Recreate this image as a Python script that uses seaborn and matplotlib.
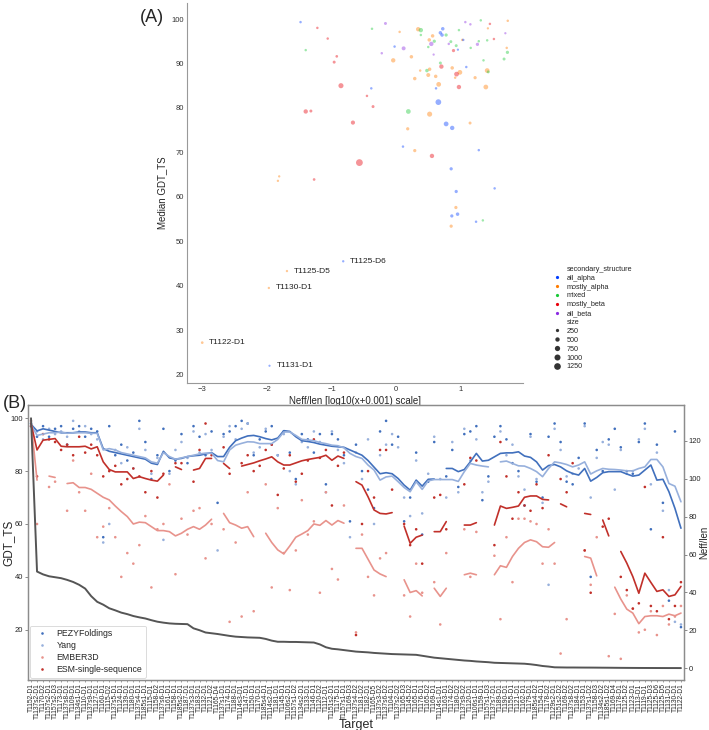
import numpy as np
import pandas as pd
import matplotlib
matplotlib.use("Agg")
import matplotlib.pyplot as plt
import seaborn as sns

sns.set_style("white")
plt.rcParams['font.family'] = ['Liberation Sans', 'DejaVu Sans']

nan = np.nan

# ---------------- Panel A data ----------------
a_x = [-1.48, -1.22, -1.06, -1.40, -0.92, -0.96, -0.855, -1.40, -1.32, -0.67, -0.57, -1.81, -1.83, -1.27,
       -0.82, -1.69, -1.97, -3.0, -1.96,
       -0.375, -0.167, 0.052, -0.224, -0.026, 0.114, -0.047, 0.234, 0.339, 0.38, 0.38, 0.562, 0.51, 0.588,
       0.542, 0.495, 0.682, 0.719, 0.708, 0.771, 0.969, 1.068, 1.146, 1.307, 1.448, 1.417, 1.724, 1.687,
       0.844, 0.812, 0.927, 0.885, 0.953, 1.021, 1.036, 1.151, 1.255, 1.276, 1.406, 1.51, 1.708, 1.719,
       1.667, 1.349, 0.578, 0.682, 0.698, 0.865, 0.474, 0.516, 0.37, 0.984, 0.932, 0.911, 0.495, 0.61,
       0.286, 1.083, 1.219, 1.406, 1.422, 1.385, 0.656, 0.615, 0.969, -0.386, -0.453, -0.359, 0.651,
       0.187, 0.516, 0.771, 0.865, 1.141, 0.177, 0.104, 0.286, 0.552, 1.276, 0.849, 0.927, 1.521, 0.922,
       0.859, 0.948, 1.234, 1.339, 0.849]
a_y = [99.3, 98.0, 95.6, 93.0, 91.6, 90.3, 85.0, 79.2, 79.3, 76.7, 67.7, 64.6, 63.6, 63.9,
       45.5, 43.3, 39.5, 27.2, 22.0,
       97.8, 99.0, 97.1, 92.3, 93.8, 93.4, 90.7, 91.5, 97.7, 97.5, 96.4, 96.2, 95.3, 95.0,
       94.4, 93.7, 96.9, 97.8, 96.4, 96.4, 97.5, 99.3, 98.8, 99.7, 98.9, 97.9, 99.6, 96.8,
       94.9, 94.4, 94.0, 92.9, 93.1, 95.3, 95.3, 93.5, 94.3, 95.0, 95.2, 95.5, 93.5, 92.5,
       91.0, 90.7, 92.0, 90.1, 89.3, 89.0, 88.4, 88.7, 88.4, 88.0, 87.6, 86.8, 87.4, 87.1,
       86.6, 89.2, 86.8, 88.4, 88.1, 84.7, 85.3, 84.4, 84.7, 84.4, 82.7, 80.3, 81.3,
       79.2, 78.6, 76.4, 75.5, 76.6, 75.3, 71.3, 70.4, 69.2, 70.5, 66.3, 61.2, 61.9, 57.6,
       55.7, 56.1, 54.4, 54.7, 53.4]
A, MA, MX, MB, B = 'all_alpha', 'mostly_alpha', 'mixed', 'mostly_beta', 'all_beta'
a_ss = [A, MB, MB, MX, MB, MB, MB, MB, MB, MB, MB, MA, MA, MB,
        A, MA, MA, MA, A,
        MX, B, MA, B, A, B, MA, MA, MA, MX, MX, MA, MA, MX,
        B, MX, A, A, A, MX, MX, B, B, MX, MB, MA, MA, B,
        MX, B, MX, MB, A, MA, A, MX, B, MX, MX, MB, MA, MX,
        MX, MX, B, MX, MB, MA, MX, MA, MA, MA, MB, MA, MA, MA,
        MA, A, MA, MA, MX, MA, MA, A, MB, A, MB, MB, A,
        MX, MA, A, A, MA, MA, A, MA, MB, A, A, A, A, MA,
        A, A, A, MX, MA]
a_size = [120, 120, 120, 120, 150, 200, 700, 500, 200, 450, 1300, 100, 100, 150,
          100, 100, 100, 150, 80,
          120, 200, 120, 120, 120, 400, 500, 300, 500, 500, 120, 300, 300, 250,
          500, 120, 300, 300, 300, 250, 120, 120, 120, 120, 120, 90, 120, 90,
          200, 120, 200, 250, 90, 120, 120, 120, 250, 120, 120, 120, 120, 250,
          200, 120, 90, 200, 500, 300, 300, 300, 120, 600, 600, 120, 400, 300,
          300, 120, 250, 600, 200, 600, 600, 120, 500, 120, 120, 200, 900,
          600, 700, 600, 500, 200, 250, 120, 250, 500, 120, 250, 250, 120, 250,
          250, 300, 120, 120, 250]
a_annot = {14: 'T1125-D6', 15: 'T1125-D5', 16: 'T1130-D1', 17: 'T1122-D1', 18: 'T1131-D1'}
ss_order = [A, MA, MX, MB, B]

# ---------------- Panel B data ----------------
targets = ['T1152-D1', 'T1137s2-D1', 'T1170-D2', 'T1157s2-D1', 'T1157s2-D3', 'T1173-D1', 'T1137s8-D1',
           'T1109-D1', 'T1134s1-D1', 'T1110-D1', 'T1137s9-D1', 'T1127-D1', 'T1160-D1', 'T1115-D2',
           'T1137s5-D1', 'T1124-D1', 'T1139-D1', 'T1180-D1', 'T1137s4-D1', 'T1185s1-D1', 'T1115-D1',
           'T1158-D2', 'T1137s6-D1', 'T1161-D1', 'T1158-D1', 'T1185s2-D1', 'T1187-D1', 'T1137s3-D1',
           'T1183-D1', 'T1132-D1', 'T1121-D2', 'T1165-D4', 'T1137s1-D1', 'T1174-D1', 'T1188-D1',
           'T1114s3-D1', 'T1147-D1', 'T1150-D1', 'T1170-D1', 'T1185s4-D1', 'T1114s2-D1', 'T1181-D1',
           'T1145-D1', 'T1106s2-D1', 'T1157s1-D2', 'T1134s2-D1', 'T1133-D1', 'T1146-D1', 'T1120-D2',
           'T1112-D1', 'T1151s2-D1', 'T1175-D1', 'T1157s1-D1', 'T1169-D3', 'T1137s4-D2', 'T1181-D2',
           'T1182-D1', 'T1165-D5', 'T1137s3-D2', 'T1137s6-D2', 'T1104-D1', 'T1137s2-D2', 'T1165-D3',
           'T1145-D2', 'T1165-D1', 'T1176-D1', 'T1165-D2', 'T1169-D1', 'T1114s1-D1', 'T1163-D1',
           'T1174-D2', 'T1180-D2', 'T1137s9-D2', 'T1120-D1', 'T1106s1-D1', 'T1159-D1', 'T1157s1-D3',
           'T1137s7-D1', 'T1189-D1', 'T1190-D1', 'T1155-D1', 'T1121-D1', 'T1162-D1', 'T1179-D1',
           'T1185s4-D2', 'T1154-D1', 'T1178-D2', 'T1129s2-D1', 'T1151s2-D2', 'T1169-D2', 'T1137s8-D2',
           'T1184-D1', 'T1153-D1', 'T1137s1-D2', 'T1158-D3', 'T1134s2-D2', 'T1185s1-D2', 'T1169-D4',
           'T1178-D1', 'T1125-D2', 'T1123-D1', 'T1113-D1', 'T1119-D1', 'T1125-D3', 'T1125-D6',
           'T1125-D5', 'T1131-D1', 'T1130-D1', 'T1122-D1']

methods = ['PEZYFoldings', 'Yang', 'EMBER3D', 'ESM-single-sequence']
method_colors = ['#4170bd', '#97b0dc', '#e8938c', '#c1302a']

pezy_dots = [98, 93, 97, 93, 96, 97, 90, 96, 97, 93,
             96, 95, 55, 97, 86, 90, 84, 87, 99, 91,
             77, 86, 96, 80, 84, 94, 83, 97, 93, 86,
             95, 68, 94, 95, 97, 99, 98, 86, 92, 95,
             97, 86, 95, 87, 77, 94, 92, 87, 94, 75,
             94, 92, 86, 61, 90, 80, 73, 66, 95, 99,
             90, 93, 61, 70, 87, 56, 76, 91, nan, 78,
             88, 74, 94, 95, 97, 69, 78, 93, 97, 92,
             83, 80, 67, 94, 76, 70, 93, 98, 91, 76,
             75, 85, 98, 40, 88, 80, 92, 96, 89, 80,
             79, 91, 98, 58, 90, 68, 31, 95, 21]
yang_dots = [97, 95, 92, 96, 94, 95, 93, 99, 95, 97,
             94, 92, 53, 60, 88, 83, 89, 81, 96, 88,
             79, 85, 54, 79, 88, 91, 85, 95, 87, 94,
             88, 50, 93, 97, 92, 96, 98, 87, 89, 96,
             90, 86, 94, 80, 75, 91, 89, 95, 91, 72,
             95, 88, 83, 55, 87, 77, 92, 60, 86, 90,
             94, 89, 70, 63, 84, 64, 79, 93, 77, 70,
             91, 72, 96, 84, 92, 72, 76, nan, 95, 86,
             90, 78, 73, 93, 77, 68, 37, 96, 88, 78,
             79, 81, 97, 70, 85, 91, 90, 73, 88, 79,
             80, 92, 96, 75, 87, 65, 35, 23, 22]
ember_dots = [99, 60, nan, 74, 76, nan, 65, 84, 72, 65,
              79, 55, 59, 66, 55, 40, 49, 45, 52, 63,
              36, 58, 60, 75, 41, 62, 56, 65, 66, 47,
              60, nan, 58, 23, 53, 25, 72, 27, nan, 75,
              36, 66, 49, 35, 50, 69, 56, 61, 34, 72,
              43, 39, 67, nan, 19, 56, 40, 33, 47, 49,
              nan, nan, 33, 25, 45, 34, nan, 38, 22, 49,
              nan, nan, 58, 40, 57, nan, nan, 48, 24, 55,
              38, 62, 62, 61, 60, 45, 58, 45, 11, 24,
              nan, nan, 50, 37, 55, nan, 10, 26, 9, 33,
              28, 19, 20, 27, 18, 29, 22, 25, 29]
esm_dots = [97, 78, 94, 92, 91, 88, 90, 86, 93, 87,
            90, 86, 78, 80, 82, 75, 77, 81, 78, 72,
            80, 70, 79, nan, 83, 83, nan, 76, 88, 98,
            86, nan, 89, 79, nan, 83, 86, 80, 82, 88,
            90, 71, 81, 86, 76, 79, 84, 92, 85, 88,
            67, 82, 87, nan, 18, 60, 80, 70, 88, 88,
            73, nan, 60, 52, 58, 45, nan, 70, 71, 58,
            nan, nan, 75, 85, 84, nan, nan, 52, 91, 78,
            62, 72, 67, 65, 75, 66, 86, nan, 77, 72,
            83, nan, 50, 34, nan, 59, 62, nan, 40, 35,
            28, 30, 74, 29, 27, 55, 24, 29, 38]

pezy_line = [97.7, 95.2, 96, 95.5, 95, 94.5, 94.5, 94.5, 94.8, 94.8,
             94.5, 94.5, 88.5, 87.5, 87, 86.5, 86, 85.5, 85, 84.5,
             83, 82.5, 87.5, 85, 84.5, 84.8, 85.5, 85.8, 86, 86.5,
             87, 85.5, 85.5, 89, 91.5, 92.5, 93.3, 93.5, 93, 92.3,
             91.8, 92.5, 95.3, 95, 93, 91.5, 91.2, 90.8, 90.2, 89.8,
             89.4, 89.2, 89, 88, 87, 86, 84, 81.5, 79, 79.4,
             79, 77.2, 74.7, 72.8, 76.6, 74.3, 76.9, 77, nan, 81,
             81, 79.8, 80.6, 83.5, 86.7, 83.8, 84.1, 85.4, 86.7, 86.9,
             86.9, 87.3, 85.7, 85.2, 83.5, 80.4, 82.1, 82.5, 81.6, 80.1,
             79.1, 78.5, 81, 76.2, 77.6, 79.4, 79.8, 79.8, 79.8, 78.9,
             78.1, 78.5, 80.4, 82.3, 76.6, 76.9, 72.2, 65.9, 58.4]
yang_line = [97.5, 93.5, 94, 94.5, 94.5, 94.8, 94.3, 94.5, 94.5, 94.5,
             94.3, 94.3, 88, 88.5, 88, 87, 86.5, 86, 85.5, 85,
             83.5, 83, 87, 85.5, 84.5, 85, 85.5, 86, 86.5, 86.8,
             86.8, 84, 83.5, 88, 89.8, 90.5, 91.1, 91, 90.4, 90.4,
             90.4, 92, 94.8, 94.8, 93.5, 92, 91.8, 91.5, 90.8, 90.4,
             89.8, 89.6, 88.8, 86.7, 85.5, 84.8, 82.3, 80.4, 76.6, 77.8,
             78.1, 76, 73.8, 72.2, 76, 73.1, 76.3, 76.8, 76.8, 76.8,
             76.8, 76.1, 79.8, 82.9, 82.3, 81.9, 81.6, nan, 83.5, 83.8,
             82.9, 82, 81.9, 81, 79.8, 77.9, 81, 83.5, 83.1, 82.5,
             81.6, 82.3, 83.5, 78.9, 80.1, 81, 80.7, 80.6, 80.4, 80.1,
             80.1, 81, 81.6, 84.4, 84.4, 81.6, 75.3, 74.3, 68.4]
ember_line = [98.6, 76.6, nan, 78.1, 77.6, nan, 75.3, 75.6, 73.8, 73.8,
              73.1, 71.6, 70.1, 69.1, 66.8, 64.7, 62.8, 60, 60.7, 60.5,
              59, 57.5, 57.5, 57.1, 55.5, 56.5, 58, 59, 58, 59.6,
              61.8, nan, 64, 60.5, 59.6, 58.4, 59, 55.2, nan, 56.5,
              53, 50.2, 48.7, 51.7, 55, 56.2, 57.5, 60, 59.5, 61.3,
              59.6, 61.3, 60.3, nan, 50.8, 50.8, 46.7, 42.6, 41.1, 40.1,
              nan, nan, 38.9, 34.1, 34.8, 32.8, nan, 35.7, 32.6, 35.7,
              nan, nan, 40.8, 41.4, 40.8, nan, nan, 40.8, 44.2, 43.6,
              47.7, 50.8, 53, 54, 53.3, 51.4, 51.2, 53, nan, nan,
              nan, nan, 47.7, 47.1, 40.4, nan, nan, 36.1, 31.6, 27.8,
              26.3, 22.3, 25, 25.3, 25.3, 25, 25.9, 25.3, 26.3]
esm_line = [98, 88, 91.7, 92, 92.3, 89.4, 89.2, 89.2, 89.2, 89.4,
            88.4, 89.2, 83.5, 80.6, 79.7, 79.7, 79.7, 77.2, 77.9, 77.2,
            76.6, 76.2, 78.5, nan, 81.6, 80.6, nan, 80.4, 81, 84.8,
            84.8, nan, 82.9, 81, nan, 81.9, 82.5, 83.1, 83.9, 84.6,
            85.4, 83.5, 82.3, 82.3, 83.1, 83.9, 84.4, 84.8, 85.2, 86,
            84.1, 85.7, 84.8, nan, 76, 74.7, 70.3, 65.3, 64, 63.8,
            64.3, nan, 59.2, 52.7, 55, 55.8, nan, 57.1, 57.1, 60.9,
            nan, nan, 59.6, 59.6, 60.5, nan, nan, 59.6, 66.8, 65.9,
            66.3, 66.8, 70.1, 70.6, 70.6, 69.3, 69.1, nan, 67.6, 66.5,
            nan, nan, 64, 63.6, nan, 61.5, 55.5, nan, 49.6, 45.2,
            40.1, 33.8, 41.4, 37.9, 34.5, 35.1, 32.6, 33.2, 36.4]
neff_len = [132, 51, 49.5, 48.5, 48, 47.5, 46.6, 45.5, 44, 42,
            38, 35, 33.5, 31.6, 30.5, 29.3, 28.5, 27.5, 26.8, 26.2,
            25.3, 24.5, 24, 23.6, 23.4, 23.3, 23.2, 21, 20, 18.8,
            18.4, 18, 17.5, 17, 16.6, 16.4, 16.2, 16.1, 16.0, 15.4,
            14.5, 13.9, 13.9, 13.8, 13.8, 13.7, 13.6, 13.5, 12.5, 11,
            10.2, 9.9, 9.5, 9.1, 8.7, 8.5, 8.3, 8.0, 7.8, 7.6,
            7.4, 7.3, 7.2, 7.1, 7.0, 6.5, 6.0, 5.5, 5.2, 4.9,
            4.6, 4.3, 4.0, 3.8, 3.5, 3.3, 3.1, 2.8, 2.7, 2.6,
            2.5, 2.4, 2.3, 2.0, 1.6, 1.1, 0.8, 0.4, 0.35, 0.3,
            0.3, 0.28, 0.26, 0.25, 0.23, 0.2, 0.18, 0.15, 0.12, 0.1,
            0.08, 0.06, 0.05, 0.04, 0.03, 0.02, 0.01, 0.01, 0.0]

# ---------------- Figure ----------------
fig = plt.figure(figsize=(7.09, 7.30), dpi=100)

# Panel A
axA = fig.add_axes([0.2637, 0.4753, 0.4740, 0.5205])
dfA = pd.DataFrame({'x': a_x, 'y': a_y, 'secondary_structure': a_ss, 'size': a_size})
sns.scatterplot(data=dfA, x='x', y='y', hue='secondary_structure', hue_order=ss_order,
                size='size', sizes=(2.5, 24), palette='bright', alpha=0.42, linewidth=0,
                legend='brief', ax=axA)
for i, name in a_annot.items():
    axA.annotate(name, (a_x[i], a_y[i]), xytext=(5, 0), textcoords='offset points',
                 va='center', ha='left', fontsize=6, color='#222222')
axA.set_xticks([-3, -2, -1, 0, 1])
axA.set_xlabel('Neff/len [log10(x+0.001) scale]', fontsize=7, labelpad=2)
axA.set_ylabel('Median GDT_TS', fontsize=7, labelpad=3)
axA.tick_params(labelsize=5.5, colors='#333333', length=0, pad=2)
sns.despine(ax=axA)
for s in ['left', 'bottom']:
    axA.spines[s].set_color('#999999')
sns.move_legend(axA, 'upper left', bbox_to_anchor=(1.07, 0.316), frameon=False,
                fontsize=5.2, labelspacing=0.25, handletextpad=0.4, borderaxespad=0)
legA = axA.get_legend()
for h, t in zip(legA.legend_handles, legA.get_texts()):
    if h is None:
        continue
    h.set_alpha(1)
    if t.get_text() in ss_order:
        if hasattr(h, 'set_markersize'):
            h.set_markersize(2.3)
        elif hasattr(h, 'set_sizes'):
            h.set_sizes([5])
fig.text(152 / 709, 1 - 17 / 730, '(A)', fontsize=13, ha='center', va='center')

# Panel B
axB = fig.add_axes([0.0395, 0.0685, 0.9252, 0.3767])
idx = np.arange(len(targets))
dots = pd.DataFrame({
    'idx': np.tile(idx, 4),
    'GDT_TS': np.concatenate([pezy_dots, yang_dots, ember_dots, esm_dots]),
    'method': np.repeat(methods, len(targets)),
}).dropna()
lines = []
for m, vals in zip(methods, [pezy_line, yang_line, ember_line, esm_line]):
    v = np.array(vals, dtype=float)
    seg = np.cumsum(np.isnan(v))
    lines.append(pd.DataFrame({'idx': idx, 'val': v, 'method': m, 'seg': seg}))
lines = pd.concat(lines).dropna()
pal = dict(zip(methods, method_colors))
sns.lineplot(data=lines, x='idx', y='val', hue='method', units='seg', estimator=None,
             palette=pal, linewidth=1.2, legend=False, ax=axB)
sns.scatterplot(data=dots, x='idx', y='GDT_TS', hue='method', hue_order=methods,
                palette=pal, s=3.5, linewidth=0, ax=axB)
axB.set_xlim(-0.5, len(targets) - 0.5)
axB.set_ylim(1, 105)
axB.set_yticks([20, 40, 60, 80, 100])
axB.set_xticks(idx)
axB.set_xticklabels(targets, rotation=90, fontsize=4.8)
axB.tick_params(axis='y', labelsize=5.5, left=True, length=2.5, width=0.6, color='#777777', pad=1)
axB.tick_params(axis='x', bottom=True, length=1.5, width=0.5, color='#777777', pad=1)
axB.set_xlabel('Target', fontsize=9, labelpad=0)
axB.set_ylabel('GDT_TS', fontsize=8.5)
axB.yaxis.set_label_coords(-0.0205, 0.5)
leg = axB.legend(loc='lower left', fontsize=6.3, frameon=True, borderaxespad=0.25,
                 labelspacing=0.35, handletextpad=0.6, markerscale=1.0, borderpad=0.4)
leg.get_frame().set_edgecolor('#cccccc')
leg.get_frame().set_linewidth(0.6)

axB2 = axB.twinx()
sns.lineplot(x=idx, y=np.array(neff_len), color='#555555', linewidth=1.4, ax=axB2)
axB2.set_ylim(-6.3, 139)
axB2.set_yticks([0, 20, 40, 60, 80, 100, 120])
axB2.tick_params(axis='y', labelsize=5.5, right=True, length=2.5, width=0.6, color='#777777', pad=1)
axB2.set_ylabel('Neff/len', fontsize=7)
axB2.yaxis.set_label_coords(1.0235, 0.5)
for ax in (axB, axB2):
    for s in ax.spines.values():
        s.set_color('#8c8c8c')
        s.set_linewidth(0.9)
fig.text(15 / 709, 1 - 403 / 730, '(B)', fontsize=13, ha='center', va='center')

fig.savefig('out.png', dpi=100)
